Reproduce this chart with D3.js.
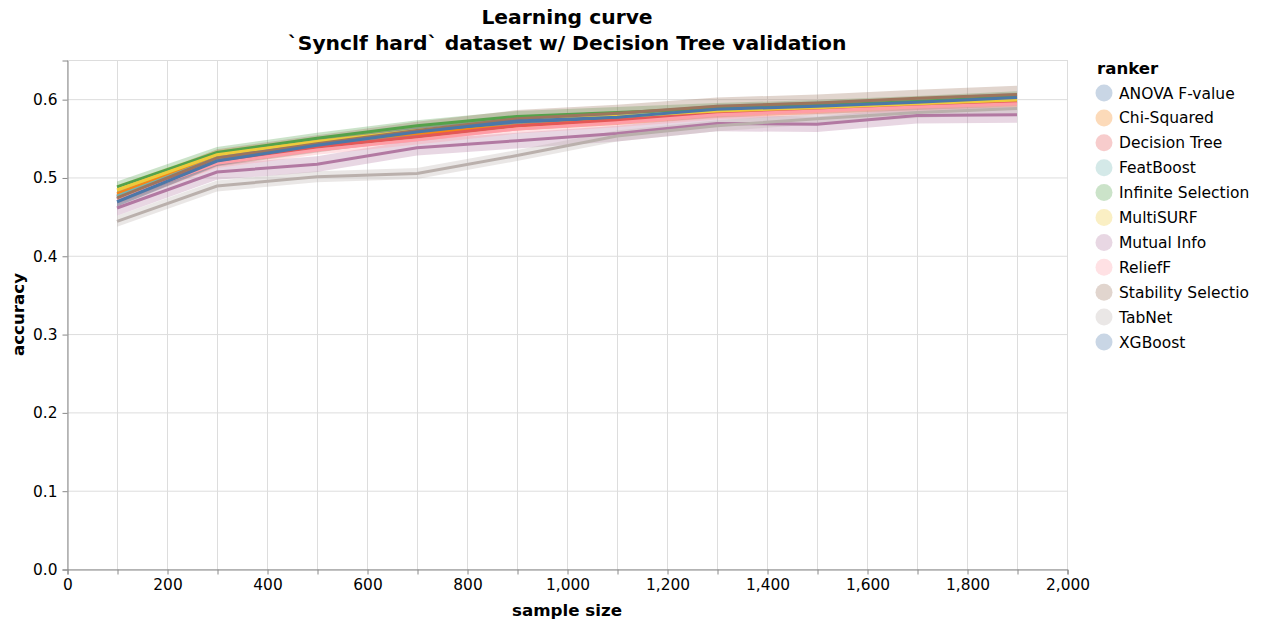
<!DOCTYPE html>
<html>
<head>
<meta charset="utf-8">
<script src="https://cdn.jsdelivr.net/npm/d3@7"></script>
<style>
  html, body { margin: 0; padding: 0; background: #fff; }
  svg { display: block; font-family: "DejaVu Sans", sans-serif; }
</style>
</head>
<body>
<svg id="chart" width="1261" height="623"></svg>
<script>
// ---- data ----
const sampleSizes = [100, 300, 500, 700, 900, 1100, 1300, 1500, 1700, 1900];
const rankers = ["ANOVA F-value", "Chi-Squared", "Decision Tree", "FeatBoost", "Infinite Selection",
  "MultiSURF", "Mutual Info", "ReliefF", "Stability Selection", "TabNet", "XGBoost"];
const colors = ["#4c78a8", "#f58518", "#e45756", "#72b7b2", "#54a24b", "#eeca3b",
  "#b279a2", "#ff9da6", "#9d755d", "#bab0ac", "#4c78a8"];
const anova     = [0.473, 0.523, 0.543, 0.558, 0.571, 0.576, 0.585, 0.590, 0.595, 0.600];
const chiSq     = [0.479, 0.528, 0.544, 0.556, 0.566, 0.573, 0.582, 0.587, 0.592, 0.596];
const decTree   = [0.476, 0.521, 0.539, 0.552, 0.566, 0.573, 0.583, 0.587, 0.592, 0.597];
const featBoost = [0.476, 0.525, 0.545, 0.560, 0.573, 0.578, 0.586, 0.590, 0.595, 0.600];
const infSel    = [0.488, 0.532, 0.550, 0.566, 0.578, 0.583, 0.588, 0.592, 0.597, 0.603];
const multiSurf = [0.484, 0.529, 0.546, 0.560, 0.573, 0.578, 0.585, 0.589, 0.594, 0.599];
const mutInfo   = [0.461, 0.507, 0.517, 0.538, 0.547, 0.556, 0.569, 0.568, 0.579, 0.580];
const reliefF   = [0.472, 0.518, 0.535, 0.548, 0.562, 0.570, 0.580, 0.585, 0.590, 0.594];
const stabSel   = [0.474, 0.525, 0.543, 0.560, 0.575, 0.582, 0.591, 0.595, 0.601, 0.606];
const tabNet    = [0.444, 0.489, 0.501, 0.505, 0.528, 0.553, 0.566, 0.575, 0.583, 0.588];
const xgboost   = [0.469, 0.521, 0.541, 0.558, 0.572, 0.577, 0.587, 0.591, 0.596, 0.602];
// half-width of the confidence band per ranker
const bandHalf = [0.006, 0.006, 0.006, 0.006, 0.007, 0.006, 0.010, 0.006, 0.011, 0.007, 0.006];
const seriesValues = [anova, chiSq, decTree, featBoost, infSel, multiSurf, mutInfo, reliefF, stabSel, tabNet, xgboost];
const xTicks = d3.range(0, 2001, 100);
const yTicks = [0, 0.1, 0.2, 0.3, 0.4, 0.5, 0.6];

// ---- layout ----
const svg = d3.select("#chart");
const mLeft = 67, mTop = 60, plotW = 1000, plotH = 509;
const x = d3.scaleLinear().domain([0, 2000]).range([mLeft, mLeft + plotW]);
const y = d3.scaleLinear().domain([0, 0.65]).range([mTop + plotH, mTop]);

const series = rankers.map((r, i) => ({
  name: r, color: colors[i], half: bandHalf[i],
  pts: sampleSizes.map((s, j) => ({ x: s, y: seriesValues[i][j] }))
}));

// grid
const grid = svg.append("g");
grid.selectAll("line.gx").data(xTicks).join("line").attr("class", "gx")
  .attr("x1", d => x(d) + 0.5).attr("x2", d => x(d) + 0.5)
  .attr("y1", mTop).attr("y2", mTop + plotH)
  .attr("stroke", "#ddd").attr("stroke-width", 1);
grid.selectAll("line.gy").data(yTicks).join("line").attr("class", "gy")
  .attr("y1", d => y(d) + 0.5).attr("y2", d => y(d) + 0.5)
  .attr("x1", mLeft).attr("x2", mLeft + plotW)
  .attr("stroke", "#ddd").attr("stroke-width", 1);
// view border
svg.append("rect").attr("x", mLeft + 0.5).attr("y", mTop + 0.5)
  .attr("width", plotW).attr("height", plotH)
  .attr("fill", "none").attr("stroke", "#ddd");

// bands then lines
const marks = svg.append("g");
series.forEach(s => {
  marks.append("path").datum(s.pts)
    .attr("d", d3.area().x(d => x(d.x)).y0(d => y(d.y - s.half)).y1(d => y(d.y + s.half)))
    .attr("fill", s.color).attr("fill-opacity", 0.3);
});
const line = d3.line().x(d => x(d.x)).y(d => y(d.y));
series.forEach(s => {
  marks.append("path").datum(s.pts)
    .attr("d", line)
    .attr("fill", "none").attr("stroke", s.color).attr("stroke-width", 3);
});

// axes
const xAxis = d3.axisBottom(x).tickValues(xTicks).tickSize(5).tickPadding(5)
  .tickFormat(d => (d % 200 === 0 ? d3.format(",")(d) : ""));
const gx = svg.append("g").attr("transform", `translate(0.5,${mTop + plotH + 0.5})`).call(xAxis);
const yAxis = d3.axisLeft(y).tickValues(yTicks).tickSize(5).tickPadding(5).tickFormat(d3.format(".1f"));
const gy = svg.append("g").attr("transform", `translate(${mLeft + 0.5},0.5)`).call(yAxis);
[gx, gy].forEach(g => {
  g.select(".domain").attr("stroke", "#888");
  g.selectAll(".tick line").attr("stroke", "#888");
  g.selectAll(".tick text").attr("font-size", 15.4).attr("font-family", "DejaVu Sans").attr("fill", "#000");
});

// axis titles
svg.append("text").attr("x", mLeft + plotW / 2).attr("y", 616)
  .attr("text-anchor", "middle").attr("font-weight", "bold").attr("font-size", 16.7).text("sample size");
svg.append("text").attr("transform", `translate(24,${mTop + plotH / 2}) rotate(-90)`)
  .attr("text-anchor", "middle").attr("font-weight", "bold").attr("font-size", 16.7).text("accuracy");

// title
svg.append("text").attr("x", mLeft + plotW / 2).attr("y", 24)
  .attr("text-anchor", "middle").attr("font-weight", "bold").attr("font-size", 20.3).text("Learning curve");
svg.append("text").attr("x", mLeft + plotW / 2).attr("y", 50)
  .attr("text-anchor", "middle").attr("font-weight", "bold").attr("font-size", 20.3)
  .text("`Synclf hard` dataset w/ Decision Tree validation");

// legend
const lg = svg.append("g").attr("transform", "translate(1097,0)");
lg.append("text").attr("x", 0).attr("y", 74).attr("font-weight", "bold").attr("font-size", 16.6).text("ranker");
const items = lg.selectAll("g.item").data(series).join("g").attr("class", "item")
  .attr("transform", (d, i) => `translate(0,${93 + i * 24.9})`);
items.append("circle").attr("cx", 7).attr("cy", 0).attr("r", 8.5)
  .attr("fill", d => d.color).attr("fill-opacity", 0.3);
items.append("text").attr("x", 22).attr("y", 5.5).attr("font-size", 15.5).text(d => d.name)
  .each(function() {
    const el = d3.select(this);
    let t = el.text();
    while (this.getComputedTextLength() > 133 && t.length > 1) {
      t = t.slice(0, -1);
      el.text(t);
    }
  });
</script>
</body>
</html>
